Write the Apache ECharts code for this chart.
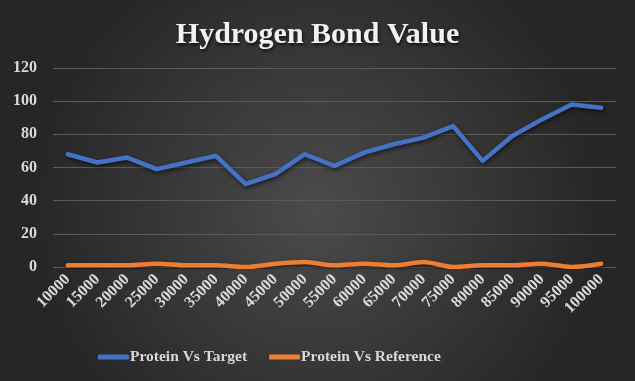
<!DOCTYPE html>
<html><head><meta charset="utf-8">
<script src="https://cdn.jsdelivr.net/npm/echarts@6/dist/echarts.min.js"></script>
<style>html,body{margin:0;padding:0;background:#333;}#c{width:635px;height:381px;}</style>
</head><body><div id="c"></div>
<script>
const categories = ['10000','15000','20000','25000','30000','35000','40000','45000','50000','55000','60000','65000','70000','75000','80000','85000','90000','95000','100000'];
const proteinVsTarget = [68,63,66,59,63,67,50,56,68,61,69,74,78,85,64,79,89,98,96];
const proteinVsReference = [1,1,1,2,1,1,0,2,3,1,2,1,3,0,1,1,2,0,2];
const yTicks = [0,20,40,60,80,100,120];

const font = '"Liberation Serif", "Times New Roman", serif';
const chart = echarts.init(document.getElementById('c'));
chart.setOption({
  backgroundColor: {
    type: 'radial', x: 0.5, y: 0.55, r: 0.75,
    colorStops: [{offset: 0, color: '#4b4b4b'}, {offset: 1, color: '#262626'}]
  },
  title: {
    text: 'Hydrogen Bond Value', left: 'center', top: 15,
    textStyle: {
      fontFamily: font, fontSize: 30, fontWeight: 'bold', color: '#f2f2f2',
      textShadowColor: 'rgba(0,0,0,0.7)', textShadowBlur: 3, textShadowOffsetX: 1, textShadowOffsetY: 2
    }
  },
  legend: {
    bottom: 11, left: 93, itemWidth: 31, itemHeight: 5, itemGap: 22,
    icon: 'roundRect',
    textStyle: {fontFamily: font, fontSize: 15.5, fontWeight: 'bold', color: '#d9d9d9', padding: [0,0,0,-4]},
    data: ['Protein Vs Target', 'Protein Vs Reference']
  },
  grid: {left: 53, right: 19, top: 68, bottom: 114},
  xAxis: {
    type: 'category', data: categories, boundaryGap: true,
    axisLine: {show: false}, axisTick: {show: false},
    axisLabel: {rotate: 45, interval: 0, fontFamily: font, fontSize: 16, fontWeight: 'bold', color: '#d9d9d9', margin: 10}
  },
  yAxis: {
    type: 'value', min: yTicks[0], max: yTicks[yTicks.length-1], interval: 20,
    axisLine: {show: false}, axisTick: {show: false},
    splitLine: {lineStyle: {color: '#5a5a5a', width: 1}},
    axisLabel: {fontFamily: font, fontSize: 16, fontWeight: 'bold', color: '#d9d9d9', margin: 16}
  },
  series: [
    {name: 'Protein Vs Target', type: 'line', data: proteinVsTarget, symbol: 'none',
     itemStyle: {color: '#4472C4'},
     lineStyle: {width: 4.5, color: '#4472C4', cap: 'round', join: 'round', shadowColor: 'rgba(0,0,0,0.6)', shadowBlur: 4, shadowOffsetX: 1, shadowOffsetY: 2}},
    {name: 'Protein Vs Reference', type: 'line', data: proteinVsReference, symbol: 'none', smooth: 0.3,
     itemStyle: {color: '#ED7D31'},
     lineStyle: {width: 4.5, color: '#ED7D31', cap: 'round', join: 'round', shadowColor: 'rgba(0,0,0,0.6)', shadowBlur: 4, shadowOffsetX: 1, shadowOffsetY: 2}}
  ]
});
</script></body></html>
